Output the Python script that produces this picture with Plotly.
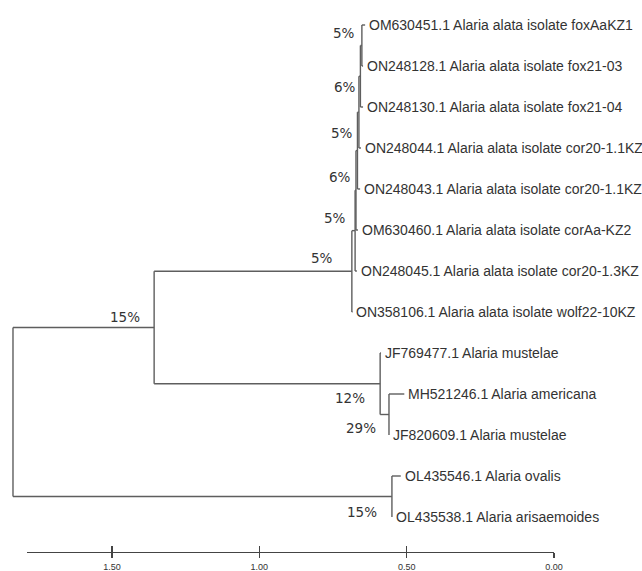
import plotly.graph_objects as go

# ---------------- data ----------------
tip_labels = [
    "OM630451.1 Alaria alata isolate foxAaKZ1",
    "ON248128.1 Alaria alata isolate fox21-03",
    "ON248130.1 Alaria alata isolate fox21-04",
    "ON248044.1 Alaria alata isolate cor20-1.1KZ",
    "ON248043.1 Alaria alata isolate cor20-1.1KZ",
    "OM630460.1 Alaria alata isolate corAa-KZ2",
    "ON248045.1 Alaria alata isolate cor20-1.3KZ",
    "ON358106.1 Alaria alata isolate wolf22-10KZ",
    "JF769477.1 Alaria mustelae",
    "MH521246.1 Alaria americana",
    "JF820609.1 Alaria mustelae",
    "OL435546.1 Alaria ovalis",
    "OL435538.1 Alaria arisaemoides",
]
tip_ids = ["t%d" % i for i in range(len(tip_labels))]
# position of each tip on the distance scale
tip_dist = [0.641, 0.648, 0.648, 0.655, 0.658, 0.665, 0.669, 0.684,
            0.587, 0.508, 0.560, 0.520, 0.550]

# internal nodes: name, children, position on the distance scale
node_names = ["N7", "N6", "N5", "N4", "N3", "N2", "N1", "M2", "M1", "A", "O1", "R"]
node_children = [("t0", "t1"), ("N7", "t2"), ("N6", "t3"), ("N5", "t4"),
                 ("N4", "t5"), ("N3", "t6"), ("N2", "t7"), ("t9", "t10"),
                 ("t8", "M2"), ("N1", "M1"), ("t11", "t12"), ("A", "O1")]
node_dist = [0.652, 0.657, 0.662, 0.667, 0.672, 0.675, 0.686,
             0.560, 0.590, 1.357, 0.550, 1.836]

# support values
support_nodes = ["N7", "N6", "N4", "N3", "N2", "N1", "A", "M1", "M2", "O1"]
support_text = ["5%", "6%", "5%", "6%", "5%", "5%", "15%", "12%", "29%", "15%"]

# scale bar
scale_ticks = [1.50, 1.00, 0.50, 0.00]
scale_ticktext = ["1.50", "1.00", "0.50", "0.00"]
scale_start = 1.7885

# label placement (pixel shifts) – style only
support_xgap = [5, 2.5, 2.5, 3, 7, 17, 12, 13, 11, 13]
support_yshift = [12.5, -11, 18, 13, 13, 13, 10.5, -14, -13.5, -15.5]

# ---------------- build tree coordinates ----------------
xpos = {t: d for t, d in zip(tip_ids, tip_dist)}
ypos = {t: i for i, t in enumerate(tip_ids)}
for name, ch, d in zip(node_names, node_children, node_dist):
    xpos[name] = d
    ypos[name] = (ypos[ch[0]] + ypos[ch[1]]) / 2.0

lx, ly = [], []
for name, ch in zip(node_names, node_children):
    c1, c2 = ch
    lx += [xpos[name], xpos[name], None]
    ly += [ypos[c1], ypos[c2], None]
    for c in ch:
        lx += [xpos[name], xpos[c], None]
        ly += [ypos[c], ypos[c], None]

line_col = "#5e5e5e"
text_col = "#333333"

fig = go.Figure()
fig.add_trace(go.Scatter(x=lx, y=ly, mode="lines",
                         line=dict(color=line_col, width=1.4),
                         hoverinfo="skip", showlegend=False))

annotations = []
for t, lab in zip(tip_ids, tip_labels):
    annotations.append(dict(x=xpos[t], y=ypos[t], xref="x", yref="y",
                            text=lab, showarrow=False, xanchor="left",
                            yanchor="middle", xshift=2,
                            font=dict(family="Liberation Sans, Arial", size=14,
                                      color=text_col)))
for n, s, gx, gy in zip(support_nodes, support_text, support_xgap, support_yshift):
    annotations.append(dict(x=xpos[n], y=ypos[n], xref="x", yref="y",
                            text=s, showarrow=False, xanchor="right",
                            yanchor="middle", xshift=-gx, yshift=gy,
                            font=dict(family="DejaVu Sans", size=13.5,
                                      color=text_col)))

# invisible traces to register the scale-bar axes
fig.add_trace(go.Scatter(x=[scale_ticks[0]], y=[-50], xaxis="x2", yaxis="y",
                         mode="markers", marker=dict(opacity=0),
                         hoverinfo="skip", showlegend=False))
fig.add_trace(go.Scatter(x=[scale_ticks[0]], y=[-50], xaxis="x3", yaxis="y",
                         mode="markers", marker=dict(opacity=0),
                         hoverinfo="skip", showlegend=False))

W, H = 642, 571
px_per_unit = 294.67
zero_px = 554
x_left = zero_px / px_per_unit
x_right = (zero_px - W) / px_per_unit
tip0_px, tip_step = 25, 41
y_top = -tip0_px / tip_step
y_bot = (H - tip0_px) / tip_step

dom = [(zero_px - scale_start * px_per_unit) / W, zero_px / W]
axis_pos = (H - 552) / H

fig.update_layout(
    width=W, height=H,
    margin=dict(l=0, r=0, t=0, b=0, autoexpand=False),
    paper_bgcolor="white", plot_bgcolor="rgba(0,0,0,0)",
    showlegend=False,
    hovermode=False,
    xaxis=dict(range=[x_left, x_right], visible=False, fixedrange=True),
    yaxis=dict(range=[y_bot, y_top], visible=False, fixedrange=True),
    xaxis2=dict(domain=dom, range=[scale_start, 0], anchor="free",
                position=axis_pos, showline=True, linecolor="#444444",
                linewidth=1.2, ticks="outside", ticklen=5, tickwidth=1.2,
                tickcolor="#444444", tickvals=scale_ticks,
                ticktext=scale_ticktext, showgrid=False, zeroline=False,
                ticklabelstandoff=1, automargin=False, fixedrange=True,
                tickfont=dict(family="Liberation Sans Narrow, Liberation Sans",
                              size=9, color=text_col)),
    xaxis3=dict(domain=dom, range=[scale_start, 0], anchor="free",
                position=axis_pos, overlaying="x2", showline=False,
                ticks="inside", ticklen=6, tickwidth=1.2, tickcolor="#444444",
                tickvals=scale_ticks, showticklabels=False, showgrid=False,
                zeroline=False, fixedrange=True),
    annotations=annotations,
)

fig.write_html("out.html",
               config={"displayModeBar": False, "staticPlot": True},
               post_script="document.body.style.margin='0';document.body.style.padding='0';")
